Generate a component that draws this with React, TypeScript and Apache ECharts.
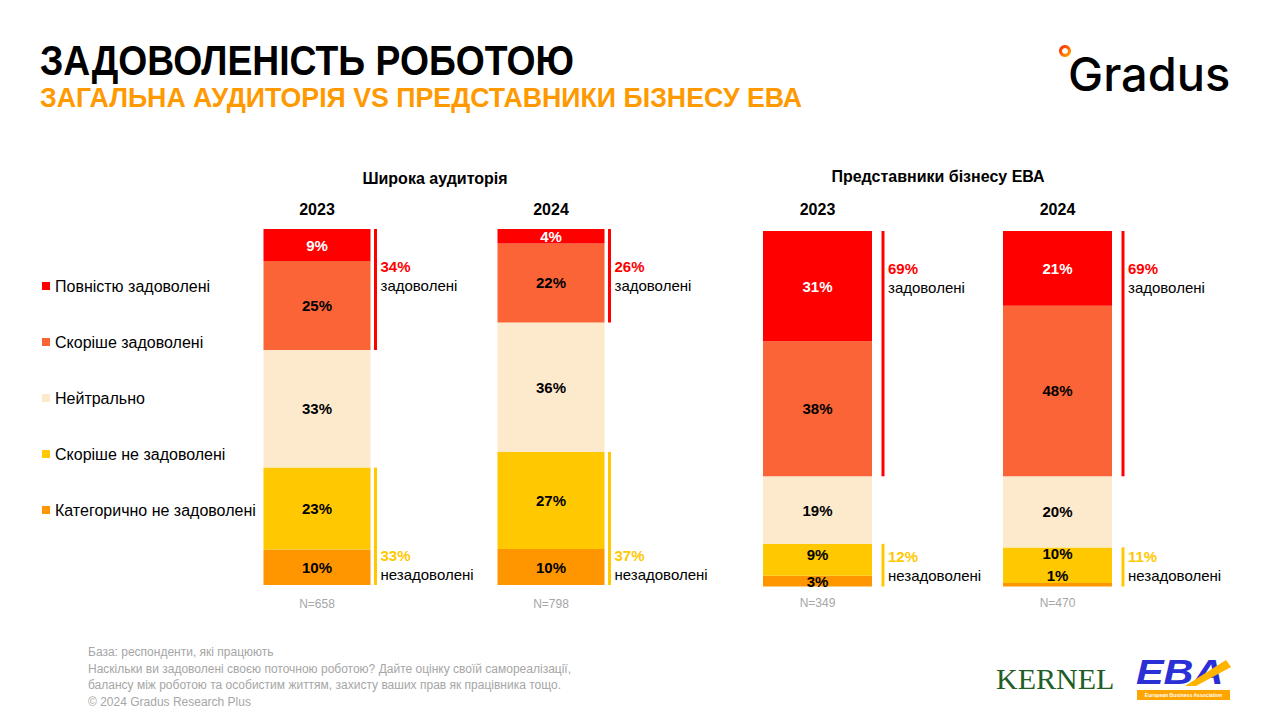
import React, { useEffect, useRef } from "react";
import * as echarts from "echarts";

// ---------- data ----------
const years = ["2023", "2024"];
const wideSampleLabels = ["N=658", "N=798"];
const ebaSampleLabels = ["N=349", "N=470"];

// bottom -> top stacking order
const segmentNames = [
  "Категорично не задоволені",
  "Скоріше не задоволені",
  "Нейтрально",
  "Скоріше задоволені",
  "Повністю задоволені",
];
const legendOrder = [
  "Повністю задоволені",
  "Скоріше задоволені",
  "Нейтрально",
  "Скоріше не задоволені",
  "Категорично не задоволені",
];

const wideNotSatisfied = [10, 10];
const wideRatherNot = [23, 27];
const wideNeutral = [33, 36];
const wideRather = [25, 22];
const wideFully = [9, 4];

const ebaNotSatisfied = [3, 1];
const ebaRatherNot = [9, 10];
const ebaNeutral = [19, 20];
const ebaRather = [38, 48];
const ebaFully = [31, 21];

const wideSatisfiedTotal = [34, 26];
const wideDissatisfiedTotal = [33, 37];
const ebaSatisfiedTotal = [69, 69];
const ebaDissatisfiedTotal = [12, 11];

const groupTitles = ["Широка аудиторія", "Представники бізнесу ЕВА"];
const footerLines = [
  "База: респонденти, які працюють",
  "Наскільки ви задоволені своєю поточною роботою? Дайте оцінку своїй самореалізації,",
  "балансу між роботою та особистим життям, захисту ваших прав як працівника тощо.",
  "© 2024 Gradus Research Plus",
];

// ---------- style ----------
const FONT = '"Liberation Sans", Arial, sans-serif';
const colors = ["#FF9600", "#FFC800", "#FDE9CC", "#FA6436", "#FF0000"];
const RED = "#FF0000";
const YELLOW = "#FFC800";

export default function App() {
  const ref = useRef<HTMLDivElement>(null);

  useEffect(() => {
    document.body.style.margin = "0";
    if (!ref.current) return;
    const chart = echarts.init(ref.current, null, { renderer: "svg" });

    const groups = [
      {
        segs: [wideNotSatisfied, wideRatherNot, wideNeutral, wideRather, wideFully],
        sat: wideSatisfiedTotal,
        dis: wideDissatisfiedTotal,
        nLabels: wideSampleLabels,
        barW: 107,
        gap: 5,
        grid: { left: 200, width: 468, top: 229, height: 356 },
        yearMargin: 12,
        nMargin: 13,
      },
      {
        segs: [ebaNotSatisfied, ebaRatherNot, ebaNeutral, ebaRather, ebaFully],
        sat: ebaSatisfiedTotal,
        dis: ebaDissatisfiedTotal,
        nLabels: ebaSampleLabels,
        barW: 109,
        gap: 11,
        grid: { left: 697.5, width: 480, top: 231, height: 355.5 },
        yearMargin: 14,
        nMargin: 10,
      },
    ];

    // label nudges for very thin segments (styling only)
    const labelNudge: Record<string, number[]> = {
      "1-1-0": [0, -5],
      "1-1-1": [0, -12],
      "1-0-1": [0, -9],
    };

    const series: any[] = [];
    const xAxis: any[] = [];
    const yAxis: any[] = [];
    const grid: any[] = [];

    groups.forEach((g, gi) => {
      grid.push({ ...g.grid });
      xAxis.push({
        type: "category",
        gridIndex: gi,
        data: years,
        position: "top",
        axisLine: { show: false },
        axisTick: { show: false },
        axisLabel: {
          color: "#000",
          fontWeight: "bold",
          fontSize: 16,
          fontFamily: FONT,
          margin: g.yearMargin,
        },
      });
      xAxis.push({
        type: "category",
        gridIndex: gi,
        data: g.nLabels,
        position: "bottom",
        axisLine: { show: false },
        axisTick: { show: false },
        axisLabel: { color: "#A6A6A6", fontSize: 12, fontFamily: FONT, margin: g.nMargin },
      });
      yAxis.push({ type: "value", gridIndex: gi, min: 0, max: 100, show: false });

      const totals = years.map((_, i) => g.segs.reduce((s, arr) => s + arr[i], 0));

      g.segs.forEach((arr, k) => {
        series.push({
          type: "bar",
          name: segmentNames[k],
          xAxisIndex: gi * 2,
          yAxisIndex: gi,
          stack: "s" + gi,
          barWidth: g.barW,
          itemStyle: { color: colors[k] },
          label: {
            show: true,
            position: "inside",
            color: k === 4 ? "#fff" : "#000",
            fontWeight: "bold",
            fontSize: 15,
            fontFamily: FONT,
            formatter: (p: any) => p.data.raw + "%",
          },
          data: arr.map((v, i) => {
            const item: any = { value: (v / totals[i]) * 100, raw: v };
            const nudge = labelNudge[`${gi}-${k}-${i}`];
            if (nudge && k <= 1) item.label = { offset: nudge };
            return item;
          }),
        });
      });

      const bracketData: any[] = [];
      years.forEach((_, i) => {
        const satShare = ((g.segs[3][i] + g.segs[4][i]) / totals[i]) * 100;
        const disShare = ((g.segs[0][i] + g.segs[1][i]) / totals[i]) * 100;
        bracketData.push([i, 100 - satShare, 100, g.sat[i], 0]);
        bracketData.push([i, 0, disShare, g.dis[i], 1]);
      });

      series.push({
        type: "custom",
        name: "brackets" + gi,
        xAxisIndex: gi * 2,
        yAxisIndex: gi,
        clip: false,
        encode: { x: 0, y: [1, 2] },
        data: bracketData,
        renderItem: (params: any, api: any) => {
          const cat = api.value(0);
          const lo = api.value(1);
          const hi = api.value(2);
          const pct = api.value(3);
          const kind = api.value(4);
          const xc = api.coord([cat, 0])[0];
          const yTop = api.coord([cat, hi])[1];
          const yBot = api.coord([cat, lo])[1];
          const x = xc + g.barW / 2 + g.gap;
          const color = kind === 0 ? RED : YELLOW;
          const y1 = kind === 0 ? yTop + 37 : yBot - 30;
          const y2 = kind === 0 ? yTop + 56 : yBot - 11;
          return {
            type: "group",
            children: [
              {
                type: "rect",
                shape: { x: x - 1.5, y: yTop, width: 3, height: yBot - yTop },
                style: { fill: color },
              },
              {
                type: "text",
                x: x + 5,
                y: y1,
                style: {
                  text: pct + "%",
                  fill: color,
                  fontSize: 15,
                  fontWeight: "bold",
                  fontFamily: FONT,
                  verticalAlign: "middle",
                  align: "left",
                },
              },
              {
                type: "text",
                x: x + 5,
                y: y2,
                style: {
                  text: kind === 0 ? "задоволені" : "незадоволені",
                  fill: "#000",
                  fontSize: 15,
                  fontFamily: FONT,
                  verticalAlign: "middle",
                  align: "left",
                },
              },
            ],
          };
        },
      });
    });

    const graphic: any[] = [
      {
        type: "text",
        x: 40,
        y: 60,
        scaleX: 0.888,
        style: {
          text: "ЗАДОВОЛЕНІСТЬ РОБОТОЮ",
          fill: "#000",
          fontSize: 42,
          fontWeight: "bold",
          fontFamily: FONT,
          verticalAlign: "middle",
        },
      },
      {
        type: "text",
        x: 40,
        y: 97,
        scaleX: 0.955,
        style: {
          text: "ЗАГАЛЬНА АУДИТОРІЯ VS ПРЕДСТАВНИКИ БІЗНЕСУ ЕВА",
          fill: "#FF9900",
          fontSize: 28,
          fontWeight: "bold",
          fontFamily: FONT,
          verticalAlign: "middle",
        },
      },
      {
        type: "text",
        x: 435,
        y: 178,
        style: {
          text: groupTitles[0],
          fill: "#000",
          fontSize: 16,
          fontWeight: "bold",
          fontFamily: FONT,
          align: "center",
          verticalAlign: "middle",
        },
      },
      {
        type: "text",
        x: 938,
        y: 176,
        style: {
          text: groupTitles[1],
          fill: "#000",
          fontSize: 16,
          fontWeight: "bold",
          fontFamily: FONT,
          align: "center",
          verticalAlign: "middle",
        },
      },
      // Gradus logo
      {
        type: "ring",
        shape: { cx: 1065, cy: 51, r: 6, r0: 3 },
        style: {
          fill: new echarts.graphic.LinearGradient(0, 0, 1, 1, [
            { offset: 0, color: "#FF1A00" },
            { offset: 1, color: "#FFB400" },
          ]),
        },
      },
      {
        type: "text",
        x: 1068,
        y: 73,
        style: {
          text: "Gradus",
          fill: "#000",
          fontSize: 47,
          fontWeight: 500,
          fontFamily: "Inter, sans-serif",
          verticalAlign: "middle",
        },
      },
      // footer
      ...footerLines.map((t, i) => ({
        type: "text",
        x: 88,
        y: 652 + i * 16.5,
        style: {
          text: t,
          fill: "#A6A6A6",
          fontSize: 12,
          fontFamily: FONT,
          verticalAlign: "middle",
        },
      })),
      // KERNEL logo
      {
        type: "text",
        x: 996,
        y: 678,
        style: {
          text: "KERNEL",
          fill: "#1F5E27",
          fontSize: 30,
          fontFamily: '"Liberation Serif", serif',
          verticalAlign: "middle",
        },
      },
      // EBA logo
      {
        type: "text",
        x: 1136,
        y: 671,
        scaleX: 1.15,
        style: {
          text: "EBA",
          fill: "#2B30D6",
          fontSize: 36,
          fontWeight: 900,
          fontStyle: "italic",
          fontFamily: FONT,
          verticalAlign: "middle",
        },
      },
      {
        type: "polygon",
        shape: {
          points: [
            [1185, 686],
            [1226, 660],
            [1231, 667],
            [1196, 686],
          ],
        },
        style: { fill: "#FFB400" },
      },
      {
        type: "rect",
        shape: { x: 1137, y: 690, width: 93, height: 10 },
        style: { fill: "#FFA500" },
      },
      {
        type: "text",
        x: 1183.5,
        y: 695,
        scaleX: 0.85,
        style: {
          text: "European Business Association",
          fill: "#fff",
          fontSize: 6,
          fontWeight: "bold",
          fontFamily: FONT,
          align: "center",
          verticalAlign: "middle",
        },
      },
    ];

    chart.setOption({
      animation: false,
      backgroundColor: "#fff",
      legend: {
        orient: "vertical",
        left: 42,
        top: 278,
        padding: 0,
        itemWidth: 8,
        itemHeight: 8,
        itemGap: 40,
        icon: "rect",
        selectedMode: false,
        data: legendOrder,
        textStyle: { fontSize: 16, color: "#000", fontFamily: FONT, lineHeight: 16 },
      },
      grid,
      xAxis,
      yAxis,
      series,
      graphic,
    });

    return () => chart.dispose();
  }, []);

  return <div ref={ref} style={{ width: 1277, height: 717 }} />;
}
